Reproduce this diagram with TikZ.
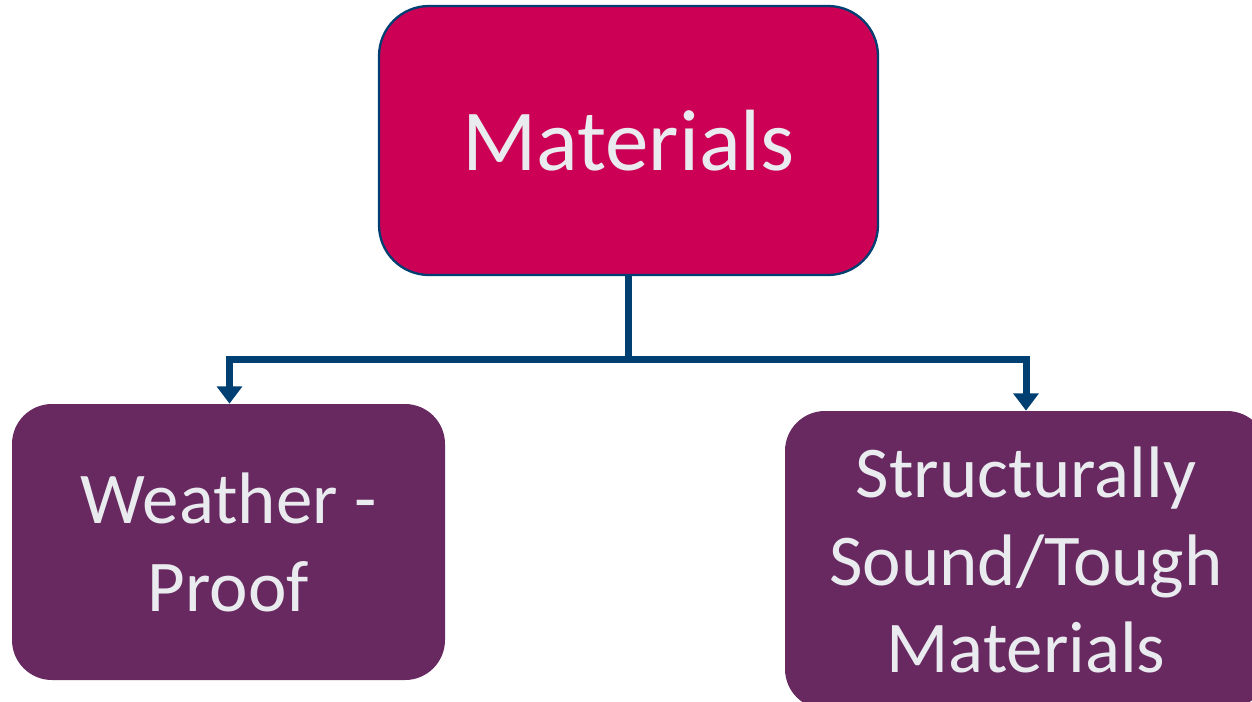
\documentclass[tikz,border=0pt]{standalone}
\usepackage{fontspec}
\setmainfont{Carlito}
\usetikzlibrary{arrows.meta, positioning}
\usepackage{xcolor}
\definecolor{Magenta}{HTML}{CC0055}
\definecolor{Plum}{HTML}{672960}
\definecolor{Navy}{HTML}{003F72}
\definecolor{PaleText}{HTML}{E9EBEF}

\begin{document}
\begin{tikzpicture}[
    topbox/.style={
        draw=Navy, line width=1.3pt, fill=Magenta, rounded corners=1cm,
        minimum width=9.98cm, minimum height=5.38cm, text=PaleText,
        font=\fontsize{49.5}{59}\selectfont
    },
    subbox/.style={
        fill=Plum, rounded corners=0.8cm, align=center, text=PaleText,
        font=\fontsize{41.5}{50}\selectfont
    },
    conn/.style={Navy, line width=4pt},
    arr/.style={conn, -{Triangle[length=9.8pt, width=14pt]}}
]
\clip (0,0) rectangle (25.04,-14.02);

% === Root ===
\node[topbox] (mat) at (12.57,-2.81) {Materials};

% === Children ===
\node[subbox, minimum width=8.66cm, minimum height=5.52cm] (weather) at (4.57,-10.84)
    {Weather -\\Proof};
\node[subbox, minimum width=9.64cm, minimum height=5.96cm] (tough) at (20.52,-11.2)
    {Structurally\\Sound/Tough\\Materials};

% === Connectors ===
\draw[conn] (mat.south) -- ++(0,-1.66) coordinate (split);
\draw[arr] (split) -| ([xshift=0.02cm]weather.north);
\draw[arr] (split) -| (tough.north);

\end{tikzpicture}
\end{document}
